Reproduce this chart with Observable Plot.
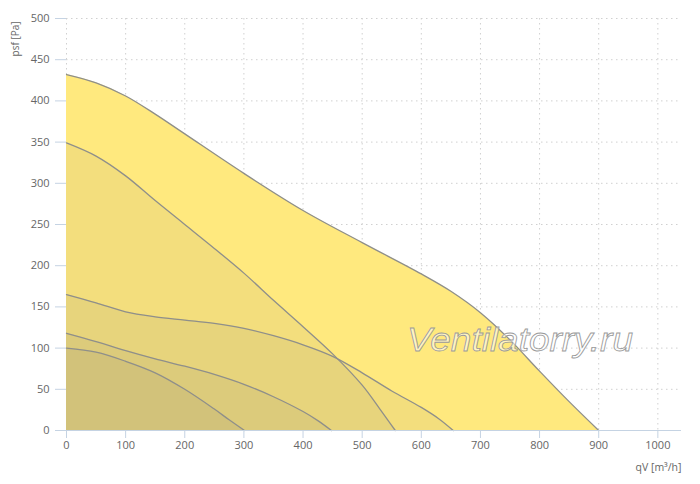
<!DOCTYPE html>
<html>
<head>
<meta charset="utf-8">
<script src="https://cdn.jsdelivr.net/npm/d3@7"></script>
<script src="https://cdn.jsdelivr.net/npm/@observablehq/plot@0.6"></script>
<style>
  html, body { margin: 0; padding: 0; background: #fff; }
  #chart { width: 700px; height: 484px; }
</style>
</head>
<body>
<div id="chart"></div>
<script>
// Flow (m³/h) and static pressure (Pa) for each fan curve
const q1 = [0, 50, 100, 150, 200, 300, 400, 500, 600, 650, 700, 750, 800, 850, 900];
const p1 = [432, 422, 406, 384, 360, 312, 267, 228, 190, 169, 143, 110, 72, 35, 0];

const q2 = [0, 50, 100, 150, 200, 250, 300, 350, 400, 450, 500, 530, 556];
const p2 = [349, 333, 309, 279, 250, 221, 191, 158, 126, 93, 55, 26, 0];

const q3 = [0, 50, 100, 150, 200, 250, 300, 350, 400, 450, 500, 550, 600, 630, 654];
const p3 = [165, 155, 144, 138, 134, 130, 124, 115, 104, 90, 70, 48, 28, 14, 0];

const q4 = [0, 50, 100, 150, 200, 250, 300, 350, 400, 425, 448];
const p4 = [118, 108, 97, 87, 78, 68, 56, 41, 23, 12, 0];

const q5 = [0, 50, 100, 150, 200, 250, 275, 301];
const p5 = [100, 95, 84, 70, 50, 26, 13, 0];

const xTicks = [0, 100, 200, 300, 400, 500, 600, 700, 800, 900, 1000];
const yTicks = [0, 50, 100, 150, 200, 250, 300, 350, 400, 450, 500];

const xLabel = "qV [m³/h]";
const yLabel = "psf [Pa]";
const watermark = "Ventilatorry.ru";

const series = [[q1, p1], [q2, p2], [q3, p3], [q4, p4], [q5, p5]]
  .map(([q, p]) => q.map((v, i) => ({q: v, p: p[i]})));

const axisColor = "#C5D3E3";
const textColor = "#666666";
const curveStroke = "#8f8f8a";

const marks = [
  Plot.gridX(xTicks, {stroke: "#d0d0d0", strokeOpacity: 1, strokeDasharray: "1.5,3.5"}),
  Plot.gridY(yTicks, {stroke: "#d0d0d0", strokeOpacity: 1, strokeDasharray: "1.5,3.5"})
];

series.forEach((d, i) => {
  marks.push(Plot.areaY(d, {
    x: "q", y: "p", curve: "catmull-rom",
    fill: i === 0 ? "#FFE97E" : "rgb(100,90,120)",
    fillOpacity: i === 0 ? 1 : 0.075
  }));
});
series.forEach((d) => {
  marks.push(Plot.line(d, {x: "q", y: "p", curve: "catmull-rom", stroke: curveStroke, strokeWidth: 1.3}));
});

marks.push(
  Plot.ruleY([0], {stroke: axisColor, strokeWidth: 1.2}),
  Plot.axisX(xTicks, {tickSize: 8, tickPadding: 3, stroke: axisColor, fill: textColor, label: null, fontSize: 11, tickFormat: d3.format("d")}),
  Plot.axisY(yTicks, {tickSize: 11, tickPadding: 6, stroke: axisColor, fill: textColor, label: null, fontSize: 11, tickFormat: d3.format("d")}),
  Plot.text([yLabel], {frameAnchor: "top-left", dx: -51, dy: 3, rotate: -90, textAnchor: "end", lineAnchor: "middle", fill: textColor, fontSize: 10}),
  Plot.text([xLabel], {frameAnchor: "bottom-right", dx: 0, dy: 37, textAnchor: "end", lineAnchor: "middle", fill: textColor, fontSize: 10.5})
);

const chart = Plot.plot({
  width: 700,
  height: 484,
  marginLeft: 66,
  marginRight: 19,
  marginTop: 18,
  marginBottom: 54,
  style: {fontFamily: "'Open Sans', 'DejaVu Sans', sans-serif", fontSize: "11px", background: "#fff", color: textColor},
  x: {domain: [0, 1040]},
  y: {domain: [0, 500]},
  marks
});

// watermark overlay
d3.select(chart).append("text")
  .attr("x", 520).attr("y", 342)
  .attr("text-anchor", "middle")
  .attr("dominant-baseline", "middle")
  .attr("font-family", "'Liberation Sans', Arial, sans-serif")
  .attr("font-style", "italic")
  .attr("font-size", 33)
  .attr("textLength", 226)
  .attr("lengthAdjust", "spacingAndGlyphs")
  .attr("fill", "#ffffff")
  .attr("fill-opacity", 0.55)
  .attr("stroke", "#9a9a9a")
  .attr("stroke-width", 0.8)
  .text(watermark);

document.getElementById("chart").appendChild(chart);
</script>
</body>
</html>
